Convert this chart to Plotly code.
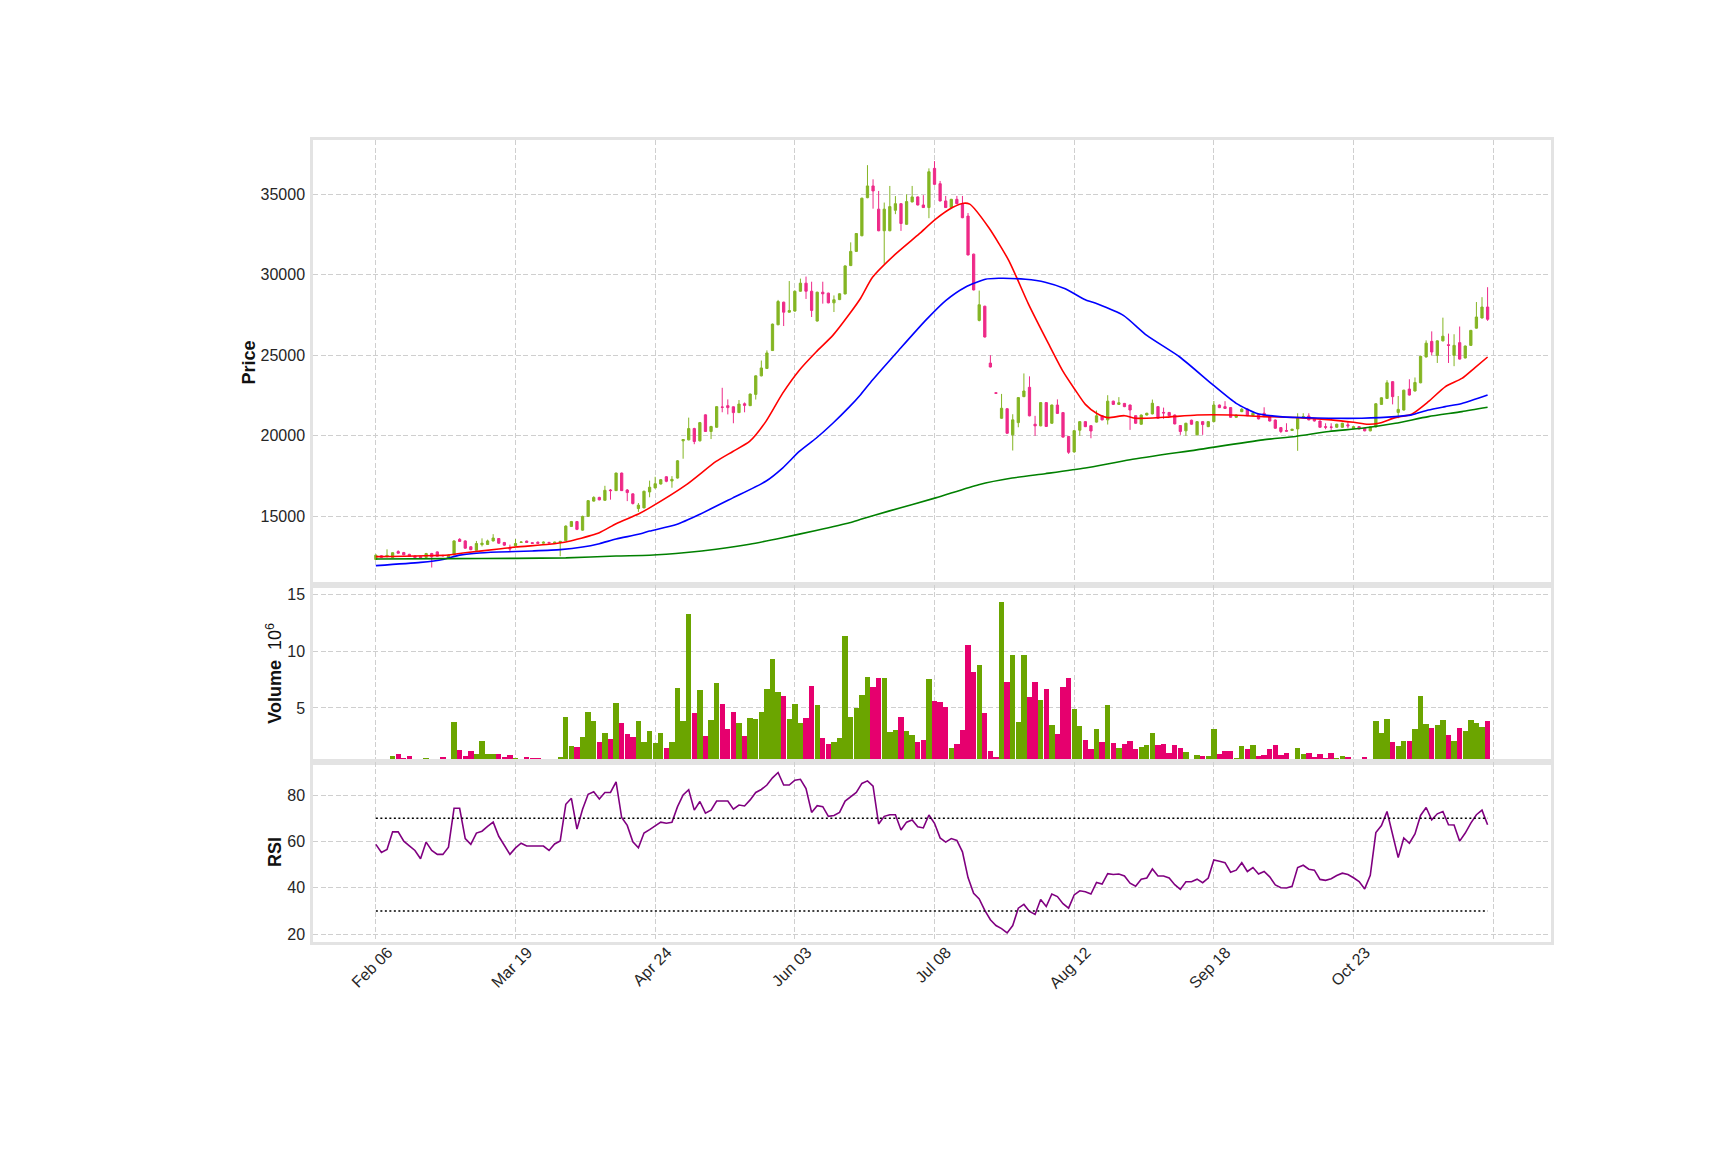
import plotly.graph_objects as go
from plotly.subplots import make_subplots

# ---------------- data ----------------
OPEN = [
    12330, 12560, 12540, 12450, 12820, 12760, 12650, 12550, 12520, 12460,
    12700, 12800, 12580, 12460, 12620, 13580, 13480, 13120, 12900, 13250,
    13260, 13480, 13630, 13380, 13040, 13180, 13390, 13470, 13370, 13400,
    13340, 13390, 13360, 13400, 13500, 14380, 14680, 14150, 15000, 15950,
    16180, 16000, 16640, 16600, 17690, 16640, 16400, 15490, 15530, 16520,
    16770, 17010, 17460, 17200, 17380, 19690, 19750, 20450, 19690, 21300,
    20270, 20530, 21790, 21870, 21800, 21440, 21990, 21870, 22570, 23720,
    24180, 25290, 26890, 28290, 27670, 27740, 28970, 29470, 28970, 27120,
    28910, 28850, 28250, 28450, 28800, 30560, 31440, 32410, 34770, 35500,
    34060, 32720, 32720, 33990, 34400, 33120, 34510, 34820, 34320, 34160,
    36590, 35640, 34570, 34160, 34670, 34400, 33630, 31270, 27160, 28040,
    24510, 22670, 21090, 21680, 20060, 20820, 22430, 23010, 20720, 20620,
    22060, 20780, 21910, 21440, 19960, 19000, 20350, 20880, 20630, 20850,
    21250, 20990, 22150, 21950, 22010, 21910, 21250, 20720, 21290, 21360,
    21810, 21450, 21450, 21290, 20640, 20310, 20970, 20060, 20880, 20570,
    20880, 21910, 21810, 21750, 21150, 21500, 21660, 21250, 21330, 21400,
    21190, 20980, 20510, 20330, 20330, 20430, 21170, 21230, 21040, 20920,
    20570, 20550, 20530, 20530, 20680, 20450, 20570, 20470, 20310, 20550,
    21950, 22320, 23360, 21450, 21600, 22900, 22780, 23290, 24890, 25860,
    24990, 25890, 25650, 24990, 25780, 24830, 25610, 26680, 27310, 27990,
]
HIGH = [
    12640, 12600, 12960, 12780, 12900, 12800, 12680, 12580, 12560, 12740,
    12740, 12830, 12620, 12640, 13520, 13650, 13520, 13150, 13480, 13640,
    13560, 13900, 13660, 13420, 13250, 13600, 13460, 13500, 13400, 13450,
    13450, 13420, 13430, 13480, 14450, 14720, 14720, 15050, 16020, 16250,
    16220, 16900, 16700, 17720, 17720, 16700, 16420, 15830, 16600, 17220,
    17460, 17320, 17500, 17500, 18500, 19800, 21130, 20500, 20860, 21330,
    20620, 21850, 22980, 22260, 21820, 22220, 22070, 22620, 23750, 24670,
    25300, 26960, 28430, 28320, 29600, 29000, 29750, 29880, 29560, 28940,
    29560, 28880, 28710, 28840, 30570, 32000, 32580, 34770, 36790, 35910,
    35190, 34470, 35500, 34870, 34430, 34980, 35500, 34850, 34930, 36590,
    37040, 35810, 34880, 34700, 34880, 34880, 33820, 31300, 29010, 28070,
    25000, 22690, 22600, 21710, 21340, 22400, 23870, 23690, 21240, 22090,
    22090, 21940, 22260, 21470, 20000, 20350, 20910, 20910, 20660, 21570,
    21280, 22520, 22180, 22400, 22040, 21940, 21280, 21320, 21430, 22250,
    21840, 21750, 21480, 21320, 20670, 20810, 21000, 20910, 20910, 20910,
    22160, 21940, 22150, 21780, 21320, 21720, 21690, 21430, 21360, 21770,
    21220, 21010, 20540, 20780, 20440, 21400, 21400, 21400, 21070, 20950,
    20780, 20780, 20750, 20810, 20880, 20600, 20600, 20500, 20580, 22020,
    22390, 23450, 23390, 22470, 22860, 23510, 23620, 24960, 25920, 26480,
    25920, 27330, 26340, 26300, 26780, 25600, 26570, 28300, 28600, 29220,
]
LOW = [
    12300, 12430, 12450, 12420, 12700, 12600, 12500, 12430, 12400, 12440,
    11830, 12500, 12520, 12440, 12600, 13420, 13000, 12900, 12880, 13140,
    13230, 13450, 13300, 13180, 12780, 13150, 13360, 13360, 13300, 13300,
    13310, 13330, 13340, 12530, 13480, 14350, 14150, 14120, 14980, 15920,
    16000, 15980, 16040, 16580, 16580, 15950, 15740, 15280, 15500, 16190,
    16740, 16980, 17120, 16780, 17350, 18580, 19720, 19480, 19650, 20240,
    19800, 20500, 21460, 21330, 20780, 21420, 21460, 21850, 22250, 23690,
    24150, 25260, 26860, 26810, 27640, 27700, 28940, 28490, 27370, 27090,
    28200, 28220, 27680, 28420, 28780, 30530, 31410, 32380, 34740, 34090,
    32690, 30660, 32690, 33750, 32710, 33090, 34480, 34290, 34130, 33500,
    35570, 34540, 34130, 34130, 34370, 33500, 31190, 29020, 27100, 26100,
    24240, 22620, 21060, 20130, 19090, 20530, 22400, 21210, 20000, 20590,
    20550, 20750, 21360, 19890, 18880, 18970, 20000, 20540, 19850, 20820,
    20960, 20700, 21920, 21920, 21780, 20370, 20750, 20690, 21260, 21330,
    21060, 21050, 21220, 20710, 20060, 20000, 20690, 20030, 20060, 20540,
    20850, 21720, 21670, 21120, 21120, 21470, 21220, 21220, 21020, 21160,
    20890, 20440, 20170, 20260, 20300, 19070, 21100, 20960, 20890, 20500,
    20410, 20370, 20500, 20500, 20470, 20420, 20400, 20280, 20280, 20520,
    21920, 22290, 21950, 21090, 21570, 22500, 22750, 23260, 24860, 25000,
    24520, 25860, 24520, 24320, 24730, 24800, 25580, 26650, 27280, 27130,
]
CLOSE = [
    12600, 12460, 12580, 12750, 12720, 12620, 12520, 12450, 12430, 12700,
    12500, 12530, 12560, 12600, 13480, 13450, 13030, 12940, 13320, 13340,
    13480, 13660, 13340, 13220, 12990, 13320, 13410, 13390, 13330, 13330,
    13400, 13360, 13400, 13450, 14400, 14680, 14200, 15000, 15980, 16180,
    16030, 16620, 16600, 17690, 16600, 16480, 15800, 15700, 16560, 16810,
    17030, 17280, 17180, 17300, 18450, 19770, 20450, 19650, 20820, 20270,
    20580, 21810, 21770, 21750, 21440, 21970, 21890, 22590, 23720, 24210,
    25140, 26930, 28330, 27670, 27770, 28970, 29470, 28970, 27780, 28910,
    28810, 28250, 28440, 28810, 30540, 31440, 32550, 34740, 35500, 35190,
    32720, 34060, 34220, 34400, 33170, 34530, 34820, 34320, 34160, 36380,
    35600, 34570, 34160, 34670, 34400, 33530, 31220, 29050, 28130, 26130,
    24270, 22640, 21710, 20160, 20990, 22370, 22780, 21240, 20620, 22060,
    20580, 21910, 21390, 19920, 18980, 20320, 20880, 20570, 20300, 21240,
    20990, 22150, 21950, 22050, 21810, 21600, 20780, 21290, 21400, 22020,
    21090, 21420, 21250, 20740, 20270, 20780, 20720, 20880, 20700, 20880,
    21910, 21750, 21700, 21150, 21290, 21650, 21250, 21400, 21050, 21190,
    20920, 20470, 20270, 20290, 20410, 21090, 21190, 20990, 20920, 20530,
    20530, 20530, 20720, 20780, 20620, 20570, 20430, 20310, 20550, 21990,
    22360, 23290, 22430, 21640, 22830, 22530, 23310, 24930, 25750, 25200,
    25890, 26180, 25610, 25610, 24760, 25570, 26540, 27370, 27990, 27230,
]
VOLUME_M = [
    0.47, 0.29, 0.47, 0.82, 0.99, 0.64, 0.82, 0.38, 0.47, 0.64,
    0.29, 0.56, 0.73, 0.47, 3.80, 1.35, 0.82, 1.26, 0.99, 2.13,
    0.99, 0.99, 0.99, 0.73, 0.91, 0.64, 0.56, 0.73, 0.64, 0.64,
    0.47, 0.47, 0.56, 0.73, 4.24, 1.70, 1.61, 2.46, 4.68, 3.89,
    2.05, 2.84, 2.31, 5.47, 3.71, 2.75, 2.49, 3.89, 2.05, 3.01,
    1.96, 2.84, 1.52, 2.05, 6.78, 3.89, 13.27, 4.59, 6.61, 2.57,
    3.98, 7.22, 5.38, 3.19, 4.68, 3.71, 2.57, 4.15, 4.06, 4.68,
    6.70, 9.33, 6.43, 6.08, 4.06, 5.38, 3.71, 4.15, 6.96, 5.29,
    2.40, 1.87, 2.05, 2.40, 11.35, 4.24, 5.03, 6.17, 7.75, 6.87,
    7.66, 7.66, 2.92, 3.10, 4.24, 2.98, 2.63, 2.05, 2.22, 7.57,
    5.64, 5.56, 5.12, 1.52, 1.87, 3.10, 10.56, 8.19, 8.80, 4.59,
    1.26, 0.73, 14.33, 7.31, 9.68, 3.80, 9.68, 5.99, 7.31, 5.73,
    6.70, 3.54, 2.75, 6.87, 7.66, 4.94, 3.45, 2.22, 1.43, 3.19,
    2.05, 5.29, 1.96, 1.52, 1.87, 2.13, 1.43, 1.61, 1.78, 2.84,
    1.78, 1.87, 1.08, 1.78, 1.52, 1.17, 0.47, 0.91, 0.82, 0.82,
    3.19, 0.99, 1.26, 1.26, 0.64, 1.70, 1.43, 1.78, 0.82, 0.91,
    1.43, 1.78, 0.91, 1.08, 0.56, 1.52, 0.99, 1.08, 0.73, 0.99,
    0.64, 1.08, 0.64, 0.82, 0.73, 0.38, 0.47, 0.73, 0.38, 3.89,
    2.84, 4.06, 2.05, 1.70, 2.13, 2.13, 3.19, 6.08, 3.63, 3.27,
    3.54, 3.98, 2.66, 2.13, 3.27, 3.01, 3.98, 3.71, 3.36, 3.89,
]
RSI = [
    58.7, 55.2, 56.5, 64.1, 64.1, 60.1, 58.1, 56.1, 52.5, 59.7,
    56.1, 54.4, 54.4, 57.5, 74.3, 74.3, 61.2, 58.7, 63.6, 64.4,
    66.5, 68.3, 62.2, 58.2, 54.4, 57.2, 59.2, 58.0, 58.0, 58.0,
    58.0, 56.1, 58.9, 60.2, 76.0, 78.6, 65.3, 73.9, 80.3, 81.4,
    78.3, 81.1, 81.1, 85.7, 70.3, 66.9, 59.8, 57.2, 63.6, 65.1,
    66.8, 68.3, 67.8, 68.2, 75.0, 80.0, 82.3, 73.5, 77.2, 72.2,
    73.5, 77.4, 77.4, 77.4, 73.9, 75.7, 75.3, 77.9, 81.1, 82.4,
    84.3, 87.4, 89.7, 84.3, 84.3, 86.4, 86.8, 82.8, 72.5, 75.4,
    75.0, 70.8, 71.2, 72.5, 77.4, 79.1, 81.1, 85.0, 86.1, 83.8,
    67.5, 70.8, 71.5, 71.5, 64.9, 68.3, 69.2, 66.3, 65.8, 71.4,
    67.8, 61.5, 59.7, 61.2, 60.4, 55.5, 44.4, 37.6, 35.2, 30.2,
    26.2, 23.7, 22.4, 20.5, 23.7, 31.2, 32.8, 29.8, 28.5, 34.9,
    31.9, 37.3, 36.2, 33.1, 31.2, 36.9, 38.7, 38.3, 37.3, 42.3,
    41.6, 46.1, 45.7, 45.9, 45.1, 42.0, 40.7, 43.7, 44.2, 48.1,
    45.1, 45.1, 44.2, 41.3, 39.3, 42.6, 42.6, 43.7, 42.2, 44.2,
    52.0, 51.4, 50.8, 46.7, 47.6, 50.8, 47.0, 48.7, 45.9, 47.0,
    44.7, 41.2, 40.0, 39.9, 40.6, 48.7, 49.7, 48.0, 47.6, 43.6,
    43.2, 43.9, 45.3, 46.3, 45.7, 44.3, 42.7, 39.5, 45.4, 63.8,
    66.8, 72.9, 62.9, 53.0, 61.5, 59.2, 63.2, 71.2, 74.6, 69.3,
    71.9, 72.9, 67.2, 67.1, 60.1, 63.6, 67.9, 71.5, 73.5, 67.2,
]

# moving averages, read at sampled trading-day positions
MA_RED_X = [0, 13, 16, 22, 25, 31, 34, 36, 40, 43, 47, 49, 55.6, 60.9, 63.9, 66.9, 69.8,
            72.8, 75.8, 78.8, 81.8, 84.8, 86.8, 88.9, 93, 97.2, 100.2, 103.2, 105.2, 106.3,
            109.7, 113.3, 116.8, 120.4, 123, 125, 127, 129, 131, 134, 136, 141, 147, 153,
            159, 165, 171, 175, 177.6, 179.5, 182.5, 185.4, 188.4, 191.4, 194.4, 196.7, 199]
MA_RED_Y = [12510, 12610, 12750, 12980, 13100, 13270, 13410, 13580, 13990, 14550, 15150, 15530,
            16970, 18410, 19030, 19650, 20880, 22630, 24070, 25200, 26230, 27570, 28550, 29830,
            31270, 32510, 33440, 34160, 34430, 34370, 32920, 30870, 28190, 25720, 24000, 22940,
            21950, 21400, 21130, 21250, 21090, 21150, 21290, 21290, 21190, 21130, 20990, 20840,
            20720, 20780, 21130, 21340, 22120, 23040, 23560, 24220, 24890]
MA_BLUE_X = [0, 8, 12, 15, 18, 22, 28, 33, 37, 40, 43, 47, 49, 53.8, 57.9, 63.9, 69.8, 72.8,
             75.8, 78.8, 81.8, 84.8, 86.8, 88.9, 93.6, 98.4, 102, 105.5, 109.1, 111.5, 116.3,
             119.8, 123.4, 127, 129.1, 133.8, 138, 143.9, 149.9, 154, 157.6, 161.8, 166, 170.6,
             176.5, 182.5, 185.4, 188.4, 191.4, 194.4, 199]
MA_BLUE_Y = [11950, 12150, 12330, 12600, 12720, 12790, 12860, 12940, 13100, 13310, 13600, 13890,
             14090, 14500, 15120, 16150, 17180, 18000, 19030, 19850, 20780, 21810, 22570, 23460,
             25310, 27160, 28390, 29220, 29710, 29770, 29710, 29530, 29120, 28440, 28190, 27470,
             26230, 24890, 23140, 22010, 21400, 21190, 21130, 21090, 21090, 21190, 21300, 21600,
             21810, 22010, 22530]
MA_GREEN_X = [0, 13, 25, 34, 43, 49, 55.6, 60.9, 66.9, 72.8, 78.8, 84.8, 86.8, 91.8, 100.2,
              107.9, 113.9, 119.8, 127, 135, 146.9, 158.8, 164.6, 170.6, 176.5, 182.5, 188.4,
              194.4, 199]
MA_GREEN_Y = [12360, 12380, 12400, 12430, 12550, 12590, 12760, 12960, 13270, 13680, 14130, 14610,
              14820, 15330, 16150, 16970, 17380, 17650, 18000, 18520, 19130, 19750, 19960, 20270,
              20470, 20780, 21190, 21500, 21770]

TICK_POS = [0, 25, 50, 75, 100, 125, 150, 175]
TICK_TEXT = ["Feb 06", "Mar 19", "Apr 24", "Jun 03", "Jul 08", "Aug 12", "Sep 18", "Oct 23"]
RSI_LEVELS = [70, 30]

# ---------------- styling ----------------
UP_C = "#84b523"
DN_C = "#ee2a88"
UP_V = "#6ba500"
DN_V = "#e6006e"
GRID = "#cfcfcf"
FRAME = "#e3e3e3"
DASH = "5px,2.5px"
TICK_FONT = dict(family="Liberation Sans, Arial, sans-serif", size=16, color="#262626")
TITLE_FONT = dict(family="Liberation Sans Narrow, Liberation Sans, Arial, sans-serif", size=18,
                  color="#111111")

N = len(CLOSE)
idx = list(range(N))

fig = make_subplots(rows=3, cols=1, shared_xaxes=True, vertical_spacing=0)

fig.add_trace(go.Candlestick(
    x=idx, open=OPEN, high=HIGH, low=LOW, close=CLOSE,
    increasing=dict(line=dict(color=UP_C, width=1), fillcolor=UP_C),
    decreasing=dict(line=dict(color=DN_C, width=1), fillcolor=DN_C),
    whiskerwidth=0, showlegend=False, hoverinfo="skip"), row=1, col=1)

for xs, ys, col in [(MA_RED_X, MA_RED_Y, "#ff0000"),
                    (MA_BLUE_X, MA_BLUE_Y, "#0000ff"),
                    (MA_GREEN_X, MA_GREEN_Y, "#008000")]:
    fig.add_trace(go.Scatter(x=xs, y=ys, mode="lines",
                             line=dict(color=col, width=1.6, shape="spline", smoothing=0.6),
                             showlegend=False, hoverinfo="skip"), row=1, col=1)

vol_colors = [UP_V if c >= o else DN_V for o, c in zip(OPEN, CLOSE)]
fig.add_trace(go.Bar(x=idx, y=VOLUME_M, marker=dict(color=vol_colors, line=dict(width=0)),
                     width=0.96, showlegend=False, hoverinfo="skip"), row=2, col=1)

fig.add_trace(go.Scatter(x=idx, y=RSI, mode="lines", line=dict(color="#800080", width=1.6),
                         showlegend=False, hoverinfo="skip"), row=3, col=1)
for lvl in RSI_LEVELS:
    fig.add_trace(go.Scatter(x=[idx[0], idx[-1]], y=[lvl, lvl], mode="lines",
                             line=dict(color="black", width=1.6, dash="2px,2.5px"),
                             showlegend=False, hoverinfo="skip"), row=3, col=1)

XR = [-11.25, 210.35]
common_x = dict(range=XR, tickvals=TICK_POS, ticktext=TICK_TEXT, showgrid=True,
                gridcolor=GRID, griddash=DASH, gridwidth=1, zeroline=False,
                showline=True, linecolor=FRAME, linewidth=2.5, mirror=True, ticks="",
                automargin=False,
                minor=dict(tick0=0, dtick=25, showgrid=True, gridcolor=GRID,
                           griddash=DASH, gridwidth=1))
fig.update_xaxes(**common_x)
fig.update_xaxes(showticklabels=False, row=1, col=1)
fig.update_xaxes(showticklabels=False, row=2, col=1)
fig.update_xaxes(showticklabels=True, tickangle=-45, tickfont=TICK_FONT,
                 ticklabelstandoff=-8, ticklabelshift=12, row=3, col=1)
fig.update_layout(xaxis_rangeslider_visible=False)

common_y = dict(showgrid=True, gridcolor=GRID, griddash=DASH, gridwidth=1,
                zeroline=False, showline=True, linecolor=FRAME, linewidth=2.5, mirror=True,
                ticks="", tickfont=TICK_FONT, title_font=TITLE_FONT, title_standoff=1,
                automargin=False, ticklabelstandoff=2)
fig.update_yaxes(**common_y)
fig.update_yaxes(domain=[0.4454, 1.0], range=[10760, 38350],
                 tickvals=[15000, 20000, 25000, 30000, 35000], tickformat="d",
                 title_text="<b>Price</b>", row=1, col=1)
fig.update_yaxes(domain=[0.2246, 0.4454], range=[0.25, 15.84], tickvals=[5, 10, 15],
                 title_text="<b>Volume</b>  10<sup>6</sup>", row=2, col=1)
fig.update_yaxes(domain=[0.0, 0.2246], range=[16.6, 94.3], tickvals=[20, 40, 60, 80],
                 title_text="<b>RSI</b>", row=3, col=1)

# the page body adds a small offset, so margins are trimmed accordingly
fig.update_layout(
    width=1725, height=1150,
    margin=dict(l=305, r=182, t=132, b=216),
    paper_bgcolor="white", plot_bgcolor="white",
    boxgap=0.42, bargap=0,
    showlegend=False,
)

fig.write_html("out.html")
